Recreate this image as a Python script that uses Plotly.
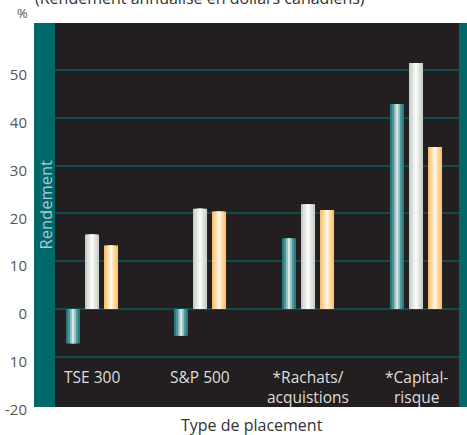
import plotly.graph_objects as go

categories = ["TSE 300", "S&P 500", "*Rachats/<br>acquistions", "*Capital-<br>risque"]
series_a = [-7.2, -5.6, 14.8, 42.9]   # teal
series_b = [15.6, 21.0, 21.9, 51.5]   # white
series_c = [13.3, 20.4, 20.7, 33.9]   # orange
y_tickvals = [-20, -10, 0, 10, 20, 30, 40, 50, 60]
y_ticktext = ["-20", "10", "0", "10", "20", "30", "40", "50", "60"]
grid_vals = [-10, 0, 10, 20, 30, 40, 50]

FONT = "Open Sans"
px_per_cat = 108.0
bar_px = 14.0
step_px = 19.0

series = [
    (series_a, ["#2a7b81", "#4f959a", "#8fbcbd", "#d4e6e4"]),
    (series_b, ["#c9d2ca", "#dbe1da", "#ebeee8", "#fbfbf7"]),
    (series_c, ["#fcc474", "#ffd395", "#ffe3ba", "#fff6e6"]),
]
layer_px = [bar_px, 10.0, 6.0, 2.5]

fig = go.Figure()
x_idx = list(range(len(categories)))
for k, (vals, cols) in enumerate(series):
    center = (k - 1) * step_px / px_per_cat
    for w_px, col in zip(layer_px, cols):
        w = w_px / px_per_cat
        fig.add_trace(go.Bar(
            x=x_idx, y=vals, width=w, offset=center - w / 2,
            marker=dict(color=col, line=dict(width=0)),
            showlegend=False, hoverinfo="skip",
        ))

# category labels inside plot
for i, c in enumerate(categories):
    fig.add_annotation(x=i, y=-11.6, xref="x", yref="y", text=c, showarrow=False,
                       yanchor="top", xanchor="center", align="center",
                       font=dict(family=FONT, size=15.5, color="#dedede"))

W, H = 467, 435
ml, mr, mt, mb = 55, 8, 23, 28
pw = W - ml - mr
ph = H - mt - mb

fig.update_layout(
    width=W, height=H,
    margin=dict(l=ml, r=mr, t=mt, b=mb, pad=0, autoexpand=False),
    barmode="overlay",
    plot_bgcolor="#231f20",
    paper_bgcolor="#ffffff",
    xaxis=dict(range=[-0.343, 3.398], showticklabels=False, showgrid=False,
               zeroline=False, showline=False, ticks="", fixedrange=True,
               automargin=False),
    yaxis=dict(range=[-20.5, 59.85], tickvals=y_tickvals, ticktext=y_ticktext,
               showgrid=False, zeroline=False, showline=False, ticks="",
               automargin=False, fixedrange=True,
               ticklabelstandoff=27, ticklabelshift=5,
               tickfont=dict(family=FONT, size=15, color="#555555"),
               minor=dict(tickvals=grid_vals, showgrid=True, gridcolor="#0e4c4d",
                          gridwidth=2, ticks="")),
    shapes=[
        dict(type="rect", xref="paper", yref="paper", x0=-21 / pw, x1=0, y0=0, y1=1,
             fillcolor="#00686a", line=dict(width=0), layer="below"),
        dict(type="rect", xref="paper", yref="paper", x0=1, x1=1 + 10 / pw, y0=0, y1=1,
             fillcolor="#00686a", line=dict(width=0), layer="below"),
    ],
    annotations=list(fig.layout.annotations) + [
        dict(text="(Rendement annualisé en dollars canadiens)", xref="paper", yref="paper",
             x=(200 - ml) / pw, y=1 + (mt + 2) / ph, xanchor="center", yanchor="middle",
             showarrow=False, font=dict(family=FONT, size=16, color="#333333")),
        dict(text="%", xref="paper", yref="paper", x=(22 - ml) / pw, y=1 + (mt - 13) / ph,
             xanchor="center", yanchor="middle", showarrow=False,
             font=dict(family=FONT, size=13, color="#555555")),
        dict(text="Rendement", xref="paper", yref="paper", x=(44.5 - ml) / pw,
             y=(H - mb - 205) / ph, xanchor="center", yanchor="middle", textangle=-90,
             showarrow=False, font=dict(family=FONT, size=16.5, color="#a8cccb")),
        dict(text="Type de placement", xref="paper", yref="paper", x=(252 - ml) / pw,
             y=-(425 - (H - mb)) / ph, xanchor="center", yanchor="middle",
             showarrow=False, font=dict(family=FONT, size=16, color="#333333")),
    ],
)

fig.write_html("out.html", config={"displayModeBar": False, "staticPlot": True},
               post_script="document.body.style.margin='0';document.body.style.overflow='hidden';")
